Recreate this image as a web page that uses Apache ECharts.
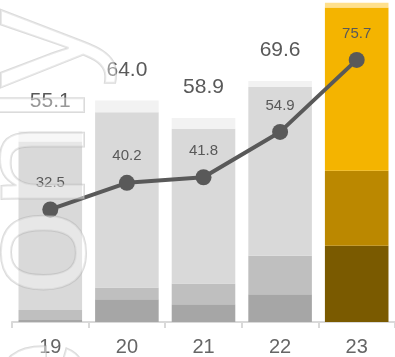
<!DOCTYPE html>
<html><head><meta charset="utf-8">
<script src="https://cdn.jsdelivr.net/npm/echarts@6/dist/echarts.min.js"></script>
<style>html,body{margin:0;padding:0;background:#fff}#c{width:395px;height:357px}</style>
</head><body><div id="c"></div>
<script>
var categories = ['19', '20', '21', '22', '23'];
var segBase = [0.6, 6.6, 5.1, 8.0, 22.0];
var segSecond = [2.9, 3.4, 6.0, 11.1, 21.7];
var segMain = [48.6, 50.6, 44.7, 48.8, 47.1];
var segTop = [3.0, 3.4, 3.1, 1.7, 1.4];
var totals = [55.1, 64.0, 58.9, 69.6, 92.2];
var lineValues = [32.5, 40.2, 41.8, 54.9, 75.7];

var grayCols = ['#a6a6a6', '#bfbfbf', '#d9d9d9', '#f2f2f2'];
var goldCols = ['#7a5a00', '#bb8800', '#f4b400', '#ffe08c'];
var HL = 4;

function seg(arr, k) {
  return arr.map(function (v, i) {
    return { value: v, itemStyle: { color: i === HL ? goldCols[k] : grayCols[k] } };
  });
}
var font = "'Liberation Sans', Arial, sans-serif";
var chart = echarts.init(document.getElementById('c'));
var barCommon = { type: 'bar', stack: 'tot', barCategoryGap: '17%', animation: false };
var wmStyle = { fill: 'rgba(255,255,255,0.38)', stroke: 'rgba(175,175,175,0.45)', lineWidth: 2 };
chart.setOption({
  animation: false,
  grid: { left: 12, right: -2, top: 0, bottom: 31, containLabel: false },
  xAxis: {
    type: 'category', data: categories, boundaryGap: true,
    axisLine: { lineStyle: { color: '#d9d9d9', width: 2 } },
    axisTick: { show: true, length: 6, lineStyle: { color: '#d9d9d9', width: 2 } },
    axisLabel: { color: '#666', fontSize: 20, fontFamily: font, margin: 15 }
  },
  yAxis: { type: 'value', min: 0, max: 93, show: false, splitLine: { show: false } },
  series: [
    Object.assign({}, barCommon, { data: seg(segBase, 0) }),
    Object.assign({}, barCommon, { data: seg(segSecond, 1) }),
    Object.assign({}, barCommon, { data: seg(segMain, 2) }),
    Object.assign({}, barCommon, {
      data: seg(segTop, 3),
      label: {
        show: true, position: 'top', distance: 20, color: '#595959', fontSize: 21, fontFamily: font,
        formatter: function (p) { return p.dataIndex === HL ? '' : totals[p.dataIndex].toFixed(1); }
      }
    }),
    {
      type: 'line', data: lineValues, z: 5, symbol: 'circle', symbolSize: 16,
      lineStyle: { color: '#595959', width: 4 }, itemStyle: { color: '#595959' },
      label: { show: true, position: 'top', distance: 11, color: '#595959', fontSize: 15, fontFamily: font,
        formatter: function (p) { return p.value.toFixed(1); } }
    }
  ],
  graphic: [{
    type: 'text', x: 41, y: 296, rotation: Math.PI / 2, z: 100, silent: true,
    style: Object.assign({ text: 'only', font: "156px " + font, align: 'left', verticalAlign: 'middle' }, wmStyle)
  }, {
    type: 'text', x: 41, y: 296, rotation: Math.PI / 2, z: 100, silent: true,
    style: Object.assign({ text: 'use ', font: "156px " + font, align: 'right', verticalAlign: 'middle' }, wmStyle)
  }]
});
</script></body></html>
